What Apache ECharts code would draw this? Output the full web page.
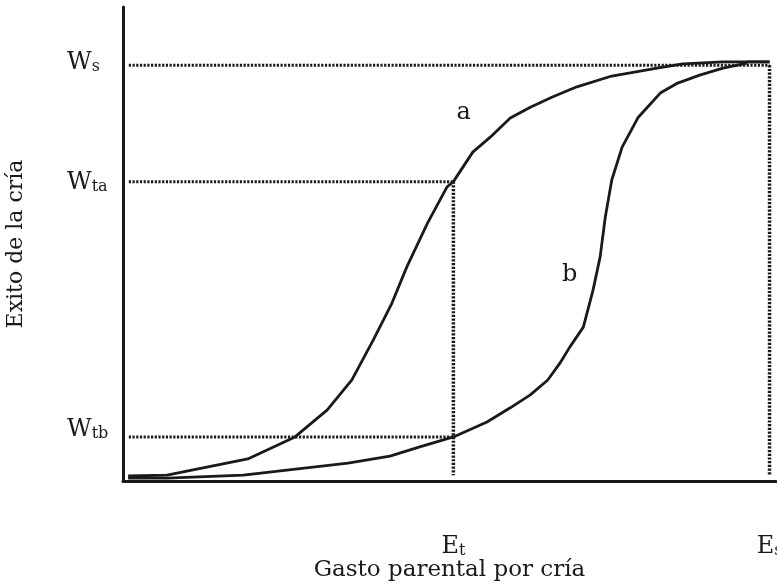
<!DOCTYPE html>
<html>
<head>
<meta charset="utf-8">
<script src="https://cdn.jsdelivr.net/npm/echarts@6/dist/echarts.min.js"></script>
<style>
  html, body { margin: 0; padding: 0; background: #fff; }
  #chart { width: 777px; height: 584px; }
</style>
</head>
<body>
<div id="chart"></div>
<script>
// Parental investment per offspring (x) versus offspring success (y)
const curveAx = [0.8, 6.8, 19.3, 26.6, 31.6, 35.4, 38.7, 41.6, 43.9, 47.1, 50.1, 51.1, 54.1, 56.8, 59.9, 63.0, 66.5, 70.2, 75.6, 82.6, 86.6, 92.8, 96.5, 100];
const curveAy = [1.2, 1.4, 5.3, 10.6, 17.1, 24.3, 33.9, 42.8, 51.5, 62.0, 70.7, 72.0, 79.1, 82.7, 87.3, 89.9, 92.4, 94.8, 97.4, 99.3, 100.3, 100.8, 100.8, 100.8];
const curveBx = [0.8, 6.8, 18.6, 34.8, 41.3, 45.9, 51.1, 56.3, 59.9, 63.0, 65.7, 67.6, 69.1, 71.2, 72.7, 73.8, 74.6, 75.6, 77.2, 79.7, 83.1, 85.8, 89.2, 92.8, 96.5];
const curveBy = [0.7, 0.7, 1.4, 4.3, 6.0, 8.2, 10.6, 14.2, 17.6, 20.7, 24.3, 28.4, 32.2, 37.0, 45.9, 53.9, 63.5, 72.4, 80.3, 87.5, 93.3, 95.7, 97.6, 99.3, 100.5];

// Reference levels on the axes
const xTickValues = [51.1, 100];
const xTickBase = ['E', 'E'];
const xTickSub = ['t', 's'];
const yTickValues = [10.6, 72.0, 100];
const yTickBase = ['W', 'W', 'W'];
const yTickSub = ['tb', 'ta', 's'];

// Curve names and where they are written
const curveNames = ['a', 'b'];
const curveNameX = [52.7, 69.1];
const curveNameY = [88.5, 49.5];

const axisTitleX = 'Gasto parental por cría';
const axisTitleY = 'Exito de la cría';

const FONT = 'DejaVu Serif';
const INK = '#1a1a1a';

const pairs = (xs, ys) => xs.map((x, i) => [x, ys[i]]);

// Dotted guide lines from the axes to each reference level
const xStart = 0.9, yFloor = 1.4;
const Et = xTickValues[0], Es = xTickValues[1];
const Wtb = yTickValues[0], Wta = yTickValues[1], Ws = yTickValues[2];
const hGuides = [
  [[xStart, Ws], [Es, Ws]],
  [[xStart, Wta], [Et, Wta]],
  [[xStart, Wtb], [Et, Wtb]]
];
const vGuides = [
  [[Es, Ws], [Es, yFloor]],
  [[Et, Wta], [Et, yFloor]]
];

// Rich-text styles for "letter + subscript" labels; the bottom padding
// lifts each W label a little above its level line.
const liftY = [10, 2, 5];
const richY = {};
liftY.forEach((p, i) => {
  richY['b' + i] = { fontFamily: FONT, fontSize: 24, color: INK, verticalAlign: 'bottom', lineHeight: 30, padding: [0, 0, p, 0] };
  richY['s' + i] = { fontFamily: FONT, fontSize: 16, color: INK, verticalAlign: 'bottom', lineHeight: 16, padding: [0, 0, p, 0] };
});
const richX = {
  b0: { fontFamily: FONT, fontSize: 24, color: INK, verticalAlign: 'bottom', lineHeight: 30 },
  s0: { fontFamily: FONT, fontSize: 16, color: INK, verticalAlign: 'bottom', lineHeight: 16 },
  b1: { fontFamily: FONT, fontSize: 24, color: INK, verticalAlign: 'bottom', lineHeight: 30 },
  s1: { fontFamily: FONT, fontSize: 16, color: INK, verticalAlign: 'bottom', lineHeight: 16 }
};

const labelFor = (bases, subs, values) => (v) => {
  const i = values.findIndex(t => Math.abs(t - v) < 1e-6);
  return i < 0 ? '' : '{b' + i + '|' + bases[i] + '}{s' + i + '|' + subs[i] + '}';
};

const chart = echarts.init(document.getElementById('chart'), null, { renderer: 'canvas' });

const series = [];
hGuides.forEach(g => series.push({
  type: 'line', data: g, symbol: 'none', silent: true, z: 1,
  lineStyle: { color: INK, width: 3, type: [2.2, 1.5] }
}));
vGuides.forEach(g => series.push({
  type: 'line', data: g, symbol: 'none', silent: true, z: 1,
  lineStyle: { color: INK, width: 3.5, type: [2.2, 1.5] }
}));
series.push({
  type: 'line', name: 'a', data: pairs(curveAx, curveAy), symbol: 'none', z: 3,
  lineStyle: { color: INK, width: 2.8 }
});
series.push({
  type: 'line', name: 'b', data: pairs(curveBx, curveBy), symbol: 'none', z: 3,
  lineStyle: { color: INK, width: 2.8 }
});
series.push({
  type: 'line', data: [[96.5, 100.8], [100, 100.8]], symbol: 'none', z: 3,
  lineStyle: { color: INK, width: 2.8 }
});
series.push({
  type: 'scatter', symbolSize: 0, z: 4,
  itemStyle: { opacity: 1 },
  data: curveNames.map((n, i) => ({ name: n, value: [curveNameX[i], curveNameY[i]] })),
  label: { show: true, position: 'inside', formatter: '{b}', fontFamily: FONT, fontSize: 24, color: INK }
});

chart.setOption({
  animation: false,
  backgroundColor: '#fff',
  grid: { left: 123, top: 7, width: 653, bottom: 103, containLabel: false, outerBoundsMode: 'none' },
  xAxis: {
    type: 'value', min: 0, max: 101,
    axisLine: { show: true, lineStyle: { color: INK, width: 3 } },
    axisTick: { show: false },
    splitLine: { show: false },
    axisLabel: {
      customValues: xTickValues, margin: 48,
      formatter: labelFor(xTickBase, xTickSub, xTickValues),
      rich: richX, showMinLabel: true, showMaxLabel: true
    },
    name: axisTitleX, nameLocation: 'middle', nameGap: 78, nameMoveOverlap: false,
    nameTextStyle: { fontFamily: FONT, fontSize: 23, color: INK }
  },
  yAxis: {
    type: 'value', min: 0, max: 114,
    axisLine: { show: true, lineStyle: { color: INK, width: 3 } },
    axisTick: { show: false },
    splitLine: { show: false },
    axisLabel: {
      customValues: yTickValues, margin: 56, align: 'left',
      formatter: labelFor(yTickBase, yTickSub, yTickValues),
      rich: richY, showMinLabel: true, showMaxLabel: true
    },
    name: axisTitleY, nameLocation: 'middle', nameGap: 96, nameMoveOverlap: false,
    nameTextStyle: { fontFamily: FONT, fontSize: 22, color: INK }
  },
  series: series
});
</script>
</body>
</html>
